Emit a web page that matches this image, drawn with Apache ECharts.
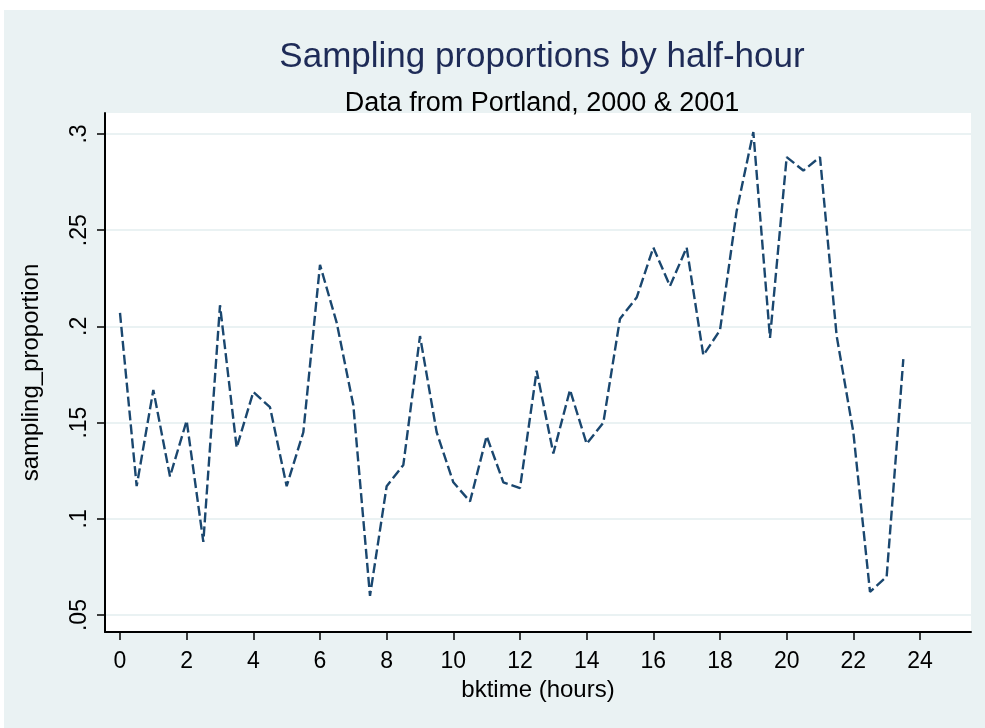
<!DOCTYPE html>
<html>
<head>
<meta charset="utf-8">
<script src="https://cdn.jsdelivr.net/npm/echarts@6/dist/echarts.min.js"></script>
<style>
html,body{margin:0;padding:0;background:#ffffff;}
#chart{width:985px;height:728px;}
</style>
</head>
<body>
<div id="chart"></div>
<script>
// Data
var hours = [0,0.5,1,1.5,2,2.5,3,3.5,4,4.5,5,5.5,6,6.5,7,7.5,8,8.5,9,9.5,10,10.5,11,11.5,
             12,12.5,13,13.5,14,14.5,15,15.5,16,16.5,17,17.5,18,18.5,19,19.5,20,20.5,21,21.5,22,22.5,23,23.5];
var samplingProportion = [0.207,0.117,0.167,0.122,0.151,0.088,0.211,0.137,0.166,0.158,0.117,0.145,
                          0.232,0.202,0.159,0.060,0.117,0.128,0.195,0.145,0.119,0.109,0.143,0.119,
                          0.116,0.177,0.134,0.167,0.139,0.150,0.204,0.215,0.241,0.221,0.241,0.185,
                          0.198,0.260,0.301,0.194,0.288,0.281,0.288,0.195,0.145,0.062,0.070,0.183];
var xTicks = [0,2,4,6,8,10,12,14,16,18,20,22,24];
var yTicks = [0.05,0.1,0.15,0.2,0.25,0.3];
var titleText = 'Sampling proportions by half-hour';
var subtitleText = 'Data from Portland, 2000 & 2001';
var xName = 'bktime (hours)';
var yName = 'sampling_proportion';

var FONT = '"Liberation Sans", Arial, sans-serif';
var BG = '#eaf2f3';

var chart = echarts.init(document.getElementById('chart'), null, {renderer:'canvas'});
var pts = hours.map(function(h,i){ return [h, samplingProportion[i]]; });

chart.setOption({
  backgroundColor: '#ffffff',
  animation: false,
  graphic: [{
    type: 'rect', left: 4, top: 10, z: -10,
    shape: {width: 981, height: 718},
    style: {fill: BG}
  }],
  title: [{
    text: titleText, left: 537, top: 35, textAlign: 'center',
    textStyle: {fontFamily: FONT, fontSize: 35, fontWeight: 'normal', color: '#1e2b57'}
  },{
    text: subtitleText, left: 537, top: 85, textAlign: 'center',
    textStyle: {fontFamily: FONT, fontSize: 27, fontWeight: 'normal', color: '#000000'}
  }],
  grid: {
    left: 105, top: 113, right: 14, bottom: 96,
    show: true, backgroundColor: '#ffffff', borderWidth: 0
  },
  xAxis: {
    type: 'value', min: -0.45, max: 25.53,
    name: xName, nameLocation: 'middle', nameGap: 41,
    nameTextStyle: {fontFamily: FONT, fontSize: 24, color: '#000'},
    axisLine: {show: true, onZero: false, lineStyle: {color: '#000', width: 2}},
    axisTick: {show: true, length: 8, customValues: xTicks, lineStyle: {color: '#000', width: 1.5}},
    axisLabel: {customValues: xTicks, margin: 18, fontFamily: FONT, fontSize: 23, color: '#000'},
    splitLine: {show: false}
  },
  yAxis: {
    type: 'value', min: 0.0412, max: 0.3109,
    name: yName, nameLocation: 'middle', nameGap: 62,
    nameTextStyle: {fontFamily: FONT, fontSize: 24, color: '#000'},
    axisLine: {show: true, onZero: false, lineStyle: {color: '#000', width: 2}},
    axisTick: {show: true, length: 8, customValues: yTicks, lineStyle: {color: '#000', width: 1.5}},
    axisLabel: {customValues: yTicks, rotate: 90, margin: 14, fontFamily: FONT, fontSize: 23, color: '#000',
      formatter: function(v){ return String(+v.toFixed(2)).replace(/^0\./, '.'); }},
    splitLine: {show: true, lineStyle: {color: BG, width: 2}}
  },
  series: [{
    type: 'line', data: pts, symbol: 'none', smooth: false,
    lineStyle: {color: '#1a476f', width: 2.4, type: [10, 4]},
    z: 3
  }]
});
</script>
</body>
</html>
